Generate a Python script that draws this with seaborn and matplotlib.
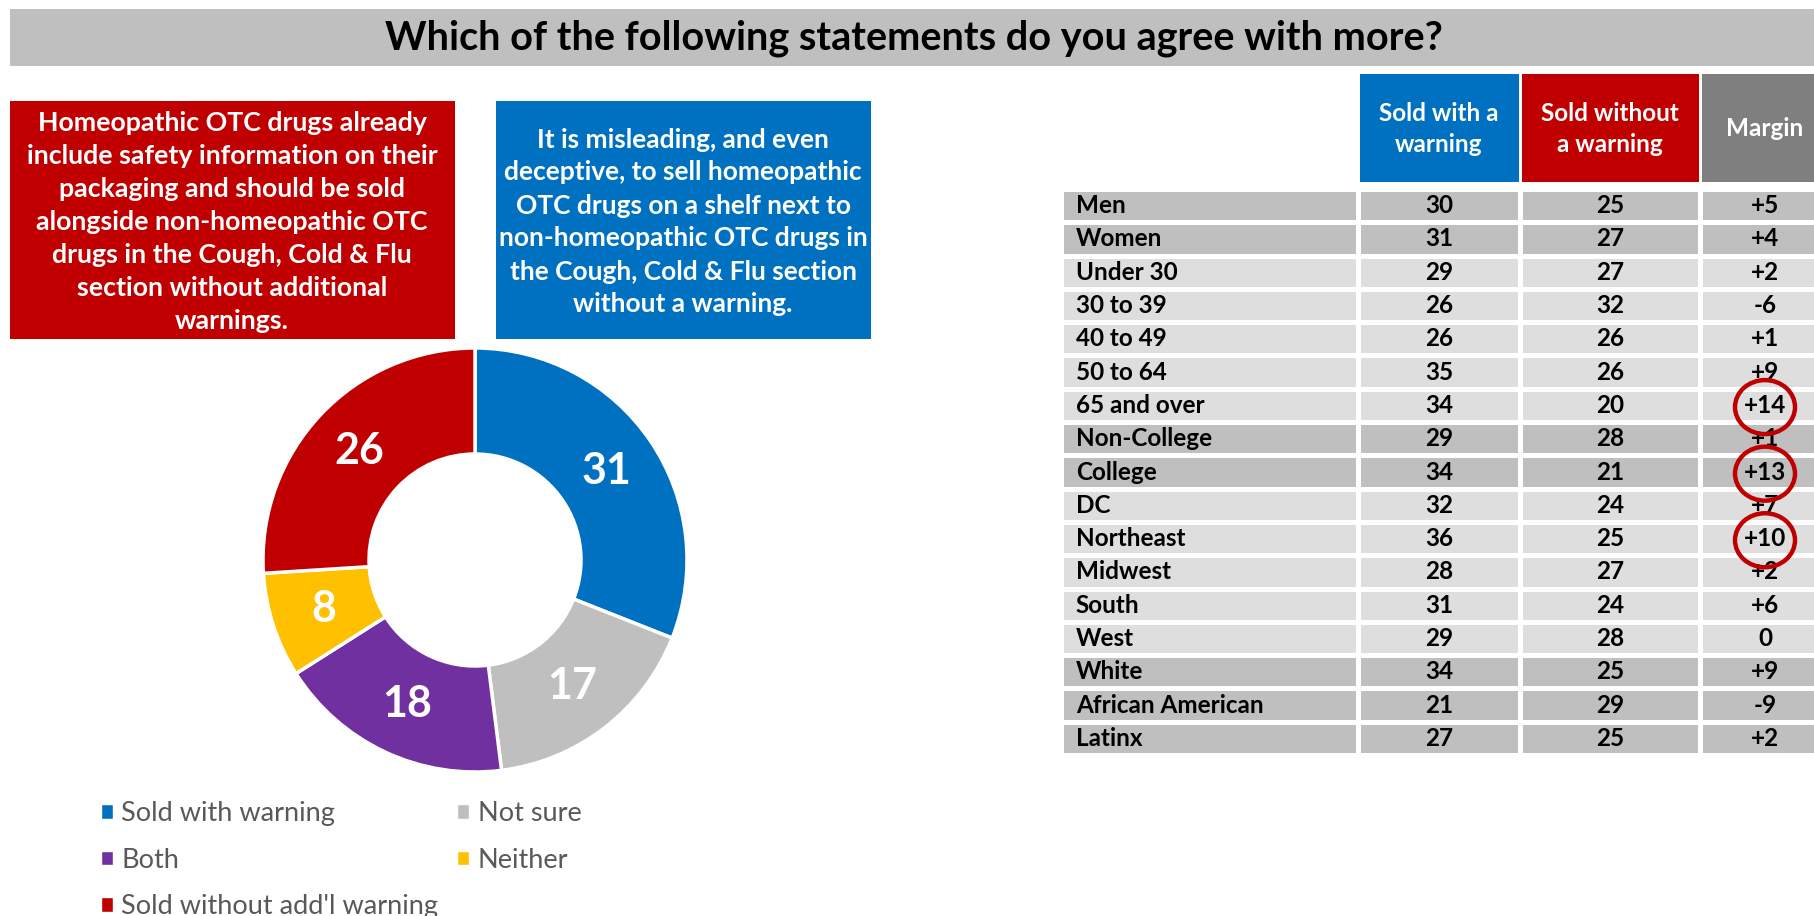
import numpy as np
import matplotlib
matplotlib.use("Agg")
import matplotlib.pyplot as plt
from matplotlib.patches import Rectangle, Ellipse
from matplotlib.colors import ListedColormap
import seaborn as sns

# donut data (clockwise from 12 o'clock)
donut_labels = ["Sold with warning", "Not sure", "Both", "Neither", "Sold without add'l warning"]
donut_values = [31, 17, 18, 8, 26]

# table data
rows = ["Men", "Women", "Under 30", "30 to 39", "40 to 49", "50 to 64", "65 and over",
        "Non-College", "College", "DC", "Northeast", "Midwest", "South", "West",
        "White", "African American", "Latinx"]
groups = ["Gender", "Gender", "Age", "Age", "Age", "Age", "Age",
          "Education", "Education", "Region", "Region", "Region", "Region", "Region",
          "Race", "Race", "Race"]
with_warning = [30, 31, 29, 26, 26, 35, 34, 29, 34, 32, 36, 28, 31, 29, 34, 21, 27]
without_warning = [25, 27, 27, 32, 26, 26, 20, 28, 21, 24, 25, 27, 24, 28, 25, 29, 25]
margin = [5, 4, 2, -6, 1, 9, 14, 1, 13, 7, 10, 2, 6, 0, 9, -9, 2]
headers = ["Sold with a\nwarning", "Sold without\na warning", "Margin"]

title = "Which of the following statements do you agree with more?"
red_text = ("Homeopathic OTC drugs already\ninclude safety information on their\n"
            "packaging and should be sold\nalongside non-homeopathic OTC\n"
            "drugs in the Cough, Cold & Flu\nsection without additional\nwarnings.")
blue_text = ("It is misleading, and even\ndeceptive, to sell homeopathic\n"
             "OTC drugs on a shelf next to\nnon-homeopathic OTC drugs in\n"
             "the Cough, Cold & Flu section\nwithout a warning.")

BLUE, RED, GRAY, PURPLE, YELLOW = "#0070C0", "#C00000", "#BFBFBF", "#7030A0", "#FFC000"
DARK_ROW, LIGHT_ROW, MARGIN_HEAD = "#BFBFBF", "#DEDEDE", "#7F7F7F"

sns.set_theme(style="white")
plt.rcParams["font.family"] = ["Lato", "DejaVu Sans"]

W, H = 1814, 916
fig = plt.figure(figsize=(W / 100, H / 100), dpi=100, facecolor="white")


def px(x0, y0, x1, y1):
    # pixel box (top-left origin) -> figure fraction rect
    return [x0 / W, 1 - y1 / H, (x1 - x0) / W, (y1 - y0) / H]


def fig_rect(x0, y0, x1, y1, color):
    r = px(x0, y0, x1, y1)
    fig.patches.append(Rectangle((r[0], r[1]), r[2], r[3], transform=fig.transFigure,
                                 facecolor=color, edgecolor="none", zorder=0))


# title bar
fig_rect(10, 9, 1814, 66, GRAY)
fig.text(914 / W, 1 - 38 / H, title, ha="center", va="center",
         fontsize=28.5, fontweight="bold", color="black")

# statement boxes
fig_rect(10, 101, 455, 339, RED)
fig.text(232 / W, 1 - 222 / H, red_text, ha="center", va="center", color="white",
         fontsize=19.3, fontweight="bold", linespacing=1.45)
fig_rect(496, 101, 871, 339, BLUE)
fig.text(683 / W, 1 - 222 / H, blue_text, ha="center", va="center", color="white",
         fontsize=19, fontweight="bold", linespacing=1.45)

# donut
ax_pie = fig.add_axes(px(263, 348, 687, 772))
wedges, _, autotexts = ax_pie.pie(
    donut_values, colors=[BLUE, GRAY, PURPLE, YELLOW, RED], startangle=90,
    counterclock=False, autopct=lambda p: f"{p:.0f}", pctdistance=0.75,
    wedgeprops=dict(width=0.5, edgecolor="white", linewidth=2.5),
    textprops=dict(color="white", fontsize=31, fontweight="bold"))
for w in wedges:
    w.set_clip_on(False)
ax_pie.set_xlim(-1, 1)
ax_pie.set_ylim(-1, 1)
ax_pie.set_aspect("equal")
ax_pie.axis("off")

# legend
order = [0, 2, 4, 1, 3]
handles = [Rectangle((0, 0), 1, 1, facecolor=wedges[i].get_facecolor()) for i in order]
fig.legend(handles, [donut_labels[i] for i in order], loc="upper left",
           bbox_to_anchor=(101 / W, 1 - 801 / H), ncol=2, frameon=False,
           fontsize=19.5, handlelength=0.45, handleheight=0.45, handletextpad=0.3,
           columnspacing=0.7, labelspacing=0.8, borderpad=0, borderaxespad=0,
           labelcolor="#595959")

# table
group_order = list(dict.fromkeys(groups))
shade = np.array([group_order.index(g) % 2 for g in groups], dtype=float).reshape(-1, 1)
cmap = ListedColormap([DARK_ROW, LIGHT_ROW])
margin_txt = [f"+{m}" if m > 0 else str(m) for m in margin]
columns = [rows, [str(v) for v in with_warning], [str(v) for v in without_warning], margin_txt]
edges = [1061, 1358, 1520, 1700, 1830]
body_top, body_bot = 189, 755
axes_cols = []
for j, col in enumerate(columns):
    ax = fig.add_axes(px(edges[j], body_top, edges[j + 1], body_bot))
    sns.heatmap(shade, ax=ax, cmap=cmap, vmin=0, vmax=1, cbar=False,
                annot=np.array(col, dtype=object).reshape(-1, 1), fmt="",
                annot_kws=dict(color="black", fontsize=17.5, fontweight="bold"),
                linewidths=2.2, linecolor="white", xticklabels=False, yticklabels=False)
    axes_cols.append(ax)

# left-align row labels
for t in axes_cols[0].texts:
    t.set_ha("left")
    t.set_x(0.05)

# header cells
head_colors = [BLUE, RED, MARGIN_HEAD]
for j, (lab, c) in enumerate(zip(headers, head_colors)):
    x0, x1 = edges[j + 1] + 1.5, edges[j + 2] - 1.5
    fig_rect(x0, 74, x1, 182, c)
    fig.text((x0 + x1) / 2 / W if j < 2 else 1765 / W, 1 - 129 / H, lab,
             ha="center", va="center", color="white", fontsize=17.5, fontweight="bold",
             linespacing=1.42)

# red circles around large margins
ax_m = axes_cols[3]
for i, m in enumerate(margin):
    if m >= 10:
        ax_m.add_patch(Ellipse((0.5, i + 0.55), 60 / 130, 54 / 33.3, fill=False,
                               edgecolor=RED, linewidth=3.2, zorder=5, clip_on=False))

fig.savefig("out.png", dpi=100, facecolor="white")
